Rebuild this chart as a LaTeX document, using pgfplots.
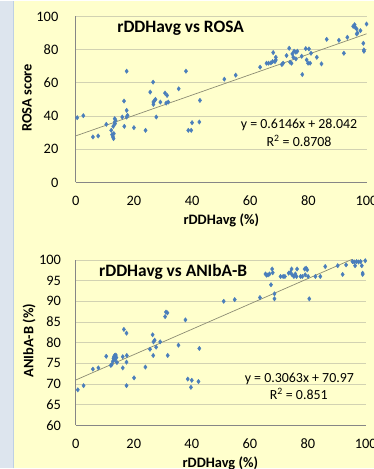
\documentclass[border=0pt]{standalone}
\usepackage{pgfplots}
\pgfplotsset{compat=1.18}
\usepackage{fontspec}
\setmainfont{Carlito}
\definecolor{bgy}{RGB}{255,255,204}
\definecolor{strip}{RGB}{221,229,238}
\definecolor{stripline}{RGB}{190,208,228}
\definecolor{gridc}{RGB}{210,210,178}
\definecolor{axgray}{RGB}{134,134,134}
\definecolor{mk}{RGB}{74,126,187}
\definecolor{trend}{RGB}{140,140,115}

\pgfplotsset{myax/.style={
  scale only axis, anchor=south west,
  xmin=0, xmax=100, xtick={0,20,...,100},
  axis lines*=left, axis line style={draw=axgray, line width=0.8bp, -},
  major tick length=0, ymajorgrids,
  grid style={draw=gridc, line width=0.8bp},
  tick label style={font=\fontsize{14.5}{16}\selectfont, text=black},
  /pgf/number format/assume math mode=true,
  xticklabel style={anchor=base, inner sep=0pt, yshift=-23.5bp},
  clip=true}}

\pgfplotstableread{
x y
0.5 39
2.6 40.2
5.9 27.4
7.7 28
10.5 35
12.2 31.4
12.5 28.8
12.8 27.4
13.0 26.4
13.1 29.4
12.9 33.8
13.4 36.4
13.4 38.4
13.7 37.4
13.5 35.4
16.0 39.4
16.6 49
16.7 33.8
17.5 67
17.5 43.4
17.5 39.4
17.8 40.4
20.0 33
24.0 31.4
25.6 54.4
26.6 60.4
26.7 48.4
27.1 49.4
26.7 47
27.4 50
27.7 39.4
29.1 48.4
30.7 53.8
31.1 47.8
31.4 52.4
31.8 48.4
35.4 56.4
37.9 67
38.7 31.4
39.7 31.4
40.0 36
42.5 36.4
42.7 49.4
51.1 62.2
55.0 64.6
63.4 69.4
65.6 71.8
66.3 71.8
67.1 72
67.7 72.8
67.9 78.2
68.5 72.8
68.8 75.4
68.8 73.8
70.9 71
71.3 71.8
72.5 76.4
73.4 80.8
73.7 72.4
74.2 71.8
74.5 77.4
74.8 75.4
75.1 79
75.7 78.4
75.7 74.4
76.2 79
77.7 76
77.9 65
79.1 80.6
79.4 73.8
79.9 71.8
80.2 80.4
80.6 71.8
80.9 77.8
82.9 75.4
84.5 71.4
86.3 86.2
90.5 85.6
92.2 77.8
93.4 87.4
95.4 94
95.9 95
96.1 93.4
96.6 92.4
96.9 90
96.6 89.4
97.9 91.4
98.9 83.8
99.1 79.8
99.1 79
100 95.4
}\rosa

\pgfplotstableread{
x y
0.7 68.6
2.7 69.6
5.9 73.6
7.8 73.9
10.5 76.7
12.1 74.5
12.4 74.7
12.8 75.5
13.0 76.2
13.2 76.6
13.4 76.9
13.6 75.9
13.8 77.0
14.0 76.4
14.2 75.2
16.2 73.9
16.6 83.2
16.2 76.6
17.5 82.3
17.5 75.3
17.6 76.9
17.5 69.6
20.1 71.5
24.0 74.1
25.6 78.4
26.5 81.9
26.7 76.9
26.8 80.2
27.2 80.6
27.7 78.9
29.1 80.2
30.8 86.3
31.1 87.4
31.6 87.2
31.7 76.9
35.4 79.4
37.8 85.5
38.6 71.2
39.7 69.2
40.0 70.9
42.6 78.6
42.3 70.6
51.0 90
54.8 90.4
63.5 90.9
65.4 96.6
65.8 96.3
66.3 96.4
66.8 96.6
67.3 94
67.7 97.8
67.9 96.9
68.5 91.8
68.5 90.6
70.6 96
71.5 96
72.1 96
73.4 96.8
74.0 97.0
74.4 97.8
74.6 96.4
75.2 96
75.7 96.6
76.3 97.8
76.1 96
77.5 96
78.1 96
78.9 97.8
79.4 98
79.8 97.6
79.1 96.4
80.1 96
80.5 90.6
82.6 96
84.3 96
86.0 98.4
90.3 98.6
92.0 96.5
93.2 98.8
95.4 99.6
96.0 99.5
96.3 98.6
96.8 99.6
97.5 99.5
98.2 99.6
98.6 98.6
98.9 96.8
98.9 96.5
99.8 99.8
}\aniba

\begin{document}
\begin{tikzpicture}[x=1bp,y=1bp]
\fill[bgy] (0,0) rectangle (375,469);
\fill[strip] (0,0) rectangle (13,469);
\draw[stripline, line width=1.5bp] (13.7,0) -- (13.7,469);
\path[use as bounding box] (0,0) rectangle (375,469);

% top chart
\begin{axis}[myax, at={(76bp,286.7bp)}, width=291.7bp, height=166.6bp,
  ymin=0, ymax=100, ytick={0,20,...,100},
  yticklabel style={anchor=east, inner sep=0pt, xshift=-17.3bp}]
\addplot[trend, line width=0.7bp] coordinates {(0,28.042) (100,89.502)};
\addplot[only marks, mark=diamond*, mark size=2.2bp, color=mk] table[x=x,y=y] {\rosa};
\end{axis}

% bottom chart
\begin{axis}[myax, at={(76bp,43bp)}, width=291bp, height=166bp,
  ymin=60, ymax=100, ytick={60,65,...,100},
  yticklabel style={anchor=east, inner sep=0pt, xshift=-14.6bp}]
\addplot[trend, line width=0.7bp] coordinates {(0,70.97) (100,101.6)};
\addplot[only marks, mark=diamond*, mark size=2.2bp, color=mk] table[x=x,y=y] {\aniba};
\end{axis}

% texts
\begin{scope}[every node/.style={inner sep=0pt}]
\node[anchor=base, font=\fontsize{17.5}{20}\selectfont\bfseries] at (181.2,469-31.7) {rDDHavg vs ROSA};
\node[anchor=base, font=\fontsize{14}{16}\selectfont] at (300,469-128.3) {y = 0.6146x + 28.042};
\node[anchor=base, font=\fontsize{14}{16}\selectfont] at (300,469-146) {R\textsuperscript{2} = 0.8708};
\node[anchor=base, font=\fontsize{14.5}{16}\selectfont\bfseries] at (222,469-224) {rDDHavg (\%)};
\node[anchor=base, rotate=90, font=\fontsize{14.5}{16}\selectfont\bfseries] at (31.7,469-97.5) {ROSA score};

\node[anchor=base, font=\fontsize{17.5}{20}\selectfont\bfseries] at (173.7,469-276.7) {rDDHavg vs ANIbA-B};
\node[anchor=base, font=\fontsize{14}{16}\selectfont] at (300.3,469-382.7) {y = 0.3063x + 70.97};
\node[anchor=base, font=\fontsize{14}{16}\selectfont] at (299.7,469-400) {R\textsuperscript{2} = 0.851};
\node[anchor=base, font=\fontsize{14.5}{16}\selectfont\bfseries] at (221,469-468) {rDDHavg (\%)};
\node[anchor=base, rotate=90, font=\fontsize{14.5}{16}\selectfont\bfseries] at (33.5,469-341) {ANIbA-B (\%)};
\end{scope}
\end{tikzpicture}
\end{document}
